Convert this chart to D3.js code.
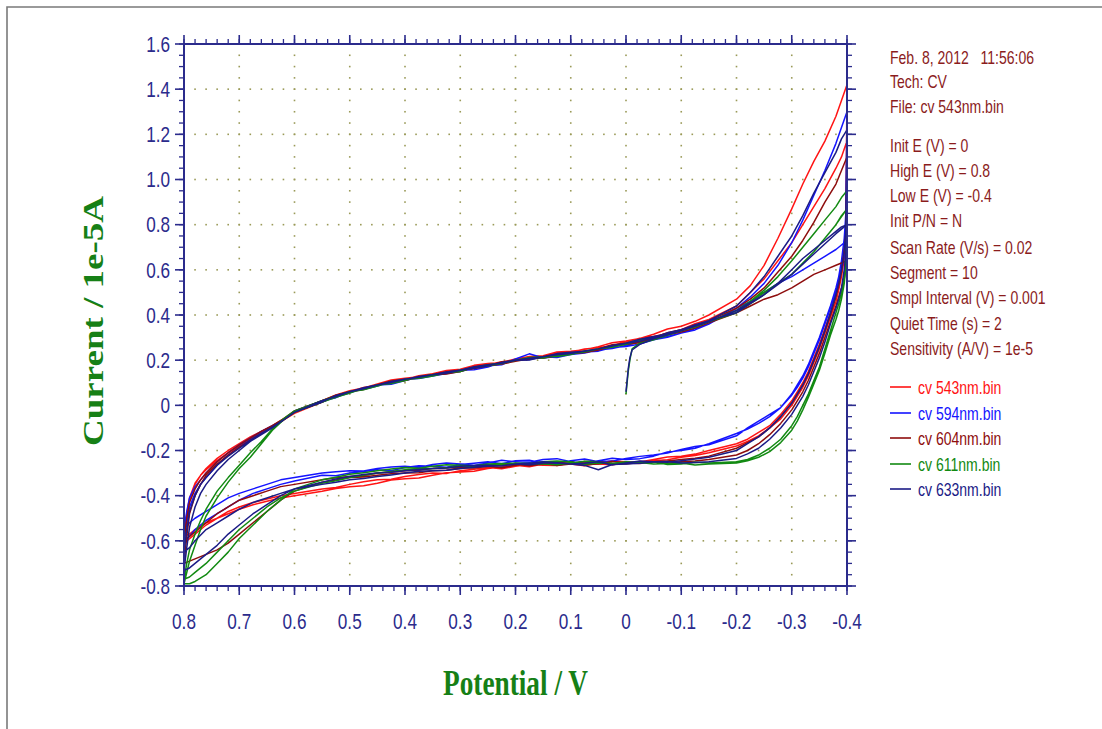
<!DOCTYPE html>
<html>
<head>
<meta charset="utf-8">
<script src="https://cdn.jsdelivr.net/npm/d3@7"></script>
<style>
  html, body { margin: 0; padding: 0; background: #fff; }
  svg { display: block; }
</style>
</head>
<body>
<svg id="chart" width="1102" height="729"></svg>
<script>
// ---- Data -------------------------------------------------------------
// Potential grid (V) for the sweep from -0.4 V up to 0.8 V (lower branch)
const sweepPos = [
  -0.4, -0.398, -0.395, -0.39, -0.385, -0.38, -0.37, -0.36, -0.35, -0.34, -0.33, -0.32, -0.31, -0.3, -0.28, -0.26, -0.24, -0.22, -0.2,
  -0.15, -0.125, -0.1, -0.075, -0.05, -0.025, 0, 0.025, 0.05, 0.075, 0.1, 0.125, 0.15, 0.175, 0.2, 0.225, 0.25, 0.275, 0.3, 0.325, 0.35, 0.375, 0.4, 0.425, 0.45, 0.475, 0.5, 0.525, 0.55,
  0.6, 0.625, 0.65, 0.675, 0.7, 0.72, 0.74, 0.76, 0.78, 0.79, 0.8];

// Potential grid (V) for the sweep from 0.8 V down to -0.4 V (upper branch)
const sweepNeg = [
  0.8, 0.795, 0.79, 0.78, 0.77, 0.76, 0.74, 0.72, 0.7, 0.68, 0.66, 0.64, 0.62, 0.6,
  0.55, 0.525, 0.5, 0.475, 0.45, 0.425, 0.4, 0.375, 0.35, 0.325, 0.3, 0.275, 0.25, 0.225, 0.2, 0.175, 0.15, 0.125, 0.1, 0.075, 0.05, 0.025, 0, -0.025, -0.05, -0.075, -0.1, -0.125, -0.15,
  -0.2, -0.225, -0.25, -0.275, -0.3, -0.32, -0.34, -0.36, -0.38, -0.39, -0.4];

// First segment: starts at Init E = 0 V and runs negative
const sweepStart = [0, -0.002, -0.004, -0.007, -0.011, -0.025, -0.05, -0.1, -0.15, -0.2, -0.25, -0.3, -0.34, -0.38, -0.4];

// Currents (1e-5 A) per file: [toward 0.8, toward -0.4, toward 0.8, toward -0.4]
const cur543 = [
  [1.17, 0.72, 0.65, 0.57, 0.51, 0.46, 0.39, 0.32, 0.25, 0.19, 0.13, 0.08, 0.04, 0.0, -0.06, -0.1, -0.135, -0.16, -0.18,
   -0.21, -0.222, -0.23, -0.241, -0.245, -0.249, -0.255, -0.263, -0.26, -0.252, -0.255, -0.266, -0.265, -0.262, -0.27, -0.281, -0.275, -0.283, -0.29, -0.302, -0.3, -0.306, -0.315, -0.327, -0.33, -0.338, -0.35, -0.364, -0.37,
   -0.39, -0.40, -0.415, -0.43, -0.45, -0.47, -0.5, -0.53, -0.57, -0.59, -0.61],
  [-0.61, -0.5, -0.42, -0.35, -0.31, -0.28, -0.235, -0.2, -0.17, -0.14, -0.115, -0.09, -0.06, -0.03,
   0.02, 0.046, 0.065, 0.077, 0.095, 0.112, 0.12, 0.127, 0.14, 0.154, 0.16, 0.177, 0.185, 0.19, 0.205, 0.216, 0.22, 0.236, 0.24, 0.246, 0.26, 0.277, 0.285, 0.296, 0.315, 0.338, 0.35, 0.372, 0.4,
   0.47, 0.53, 0.62, 0.74, 0.87, 0.98, 1.08, 1.17, 1.28, 1.35, 1.42],
  [1.42, 0.8, 0.7, 0.6, 0.54, 0.49, 0.41, 0.34, 0.27, 0.21, 0.15, 0.1, 0.06, 0.02, -0.04, -0.09, -0.12, -0.15, -0.17,
   -0.2, -0.216, -0.225, -0.229, -0.24, -0.251, -0.25, -0.246, -0.255, -0.268, -0.26, -0.257, -0.26, -0.272, -0.265, -0.273, -0.28, -0.292, -0.295, -0.299, -0.31, -0.322, -0.325, -0.331, -0.345, -0.356, -0.36, -0.368, -0.38,
   -0.4, -0.41, -0.425, -0.44, -0.46, -0.48, -0.5, -0.52, -0.55, -0.57, -0.58],
  [-0.58, -0.48, -0.41, -0.345, -0.31, -0.285, -0.245, -0.21, -0.18, -0.15, -0.12, -0.095, -0.065, -0.035,
   0.015, 0.041, 0.06, 0.079, 0.09, 0.1, 0.115, 0.131, 0.14, 0.144, 0.155, 0.172, 0.18, 0.193, 0.2, 0.207, 0.22, 0.229, 0.235, 0.249, 0.255, 0.264, 0.28, 0.297, 0.305, 0.318, 0.335, 0.361, 0.38,
   0.44, 0.5, 0.56, 0.64, 0.72, 0.8, 0.88, 0.96, 1.05, 1.1, 1.17]
];
const cur594 = [
  [0.73, 0.7, 0.66, 0.6, 0.55, 0.5, 0.43, 0.36, 0.29, 0.23, 0.17, 0.12, 0.08, 0.045, -0.01, -0.05, -0.08, -0.105, -0.125,
   -0.17, -0.19, -0.2, -0.207, -0.225, -0.236, -0.24, -0.234, -0.245, -0.258, -0.25, -0.236, -0.24, -0.252, -0.25, -0.243, -0.255, -0.266, -0.26, -0.255, -0.262, -0.275, -0.27, -0.273, -0.28, -0.291, -0.29, -0.294, -0.3,
   -0.32, -0.33, -0.35, -0.37, -0.39, -0.41, -0.44, -0.47, -0.5, -0.52, -0.55],
  [-0.55, -0.47, -0.41, -0.36, -0.33, -0.3, -0.25, -0.21, -0.175, -0.145, -0.115, -0.09, -0.065, -0.03,
   0.015, 0.038, 0.055, 0.076, 0.09, 0.093, 0.11, 0.124, 0.13, 0.141, 0.15, 0.166, 0.175, 0.18, 0.205, 0.228, 0.21, 0.216, 0.225, 0.232, 0.245, 0.252, 0.265, 0.283, 0.29, 0.305, 0.32, 0.334, 0.36,
   0.43, 0.48, 0.54, 0.62, 0.72, 0.82, 0.93, 1.04, 1.16, 1.23, 1.30],
  [1.30, 0.85, 0.74, 0.64, 0.57, 0.52, 0.44, 0.37, 0.3, 0.24, 0.18, 0.13, 0.09, 0.05, -0.01, -0.04, -0.07, -0.1, -0.135,
   -0.175, -0.182, -0.195, -0.211, -0.22, -0.226, -0.235, -0.247, -0.25, -0.238, -0.245, -0.258, -0.255, -0.243, -0.245, -0.259, -0.25, -0.256, -0.262, -0.274, -0.27, -0.268, -0.275, -0.29, -0.285, -0.293, -0.3, -0.312, -0.31,
   -0.335, -0.35, -0.37, -0.39, -0.42, -0.45, -0.48, -0.51, -0.55, -0.58, -0.6],
  [-0.6, -0.52, -0.45, -0.39, -0.35, -0.32, -0.265, -0.22, -0.185, -0.15, -0.12, -0.09, -0.065, -0.025,
   0.02, 0.034, 0.06, 0.071, 0.085, 0.104, 0.115, 0.119, 0.13, 0.147, 0.155, 0.158, 0.17, 0.189, 0.2, 0.203, 0.215, 0.212, 0.225, 0.236, 0.24, 0.256, 0.26, 0.272, 0.29, 0.301, 0.32, 0.341, 0.36,
   0.43, 0.46, 0.5, 0.54, 0.57, 0.6, 0.63, 0.66, 0.69, 0.71, 0.73]
];
const cur604 = [
  [0.64, 0.6, 0.56, 0.52, 0.48, 0.44, 0.37, 0.3, 0.23, 0.17, 0.11, 0.06, 0.02, -0.02, -0.08, -0.13, -0.17, -0.2, -0.22,
   -0.24, -0.247, -0.25, -0.256, -0.25, -0.252, -0.26, -0.258, -0.25, -0.249, -0.26, -0.266, -0.255, -0.259, -0.265, -0.276, -0.27, -0.274, -0.28, -0.287, -0.29, -0.298, -0.3, -0.303, -0.31, -0.317, -0.32, -0.331, -0.34,
   -0.38, -0.42, -0.47, -0.52, -0.57, -0.61, -0.64, -0.66, -0.68, -0.69, -0.70],
  [-0.70, -0.58, -0.48, -0.4, -0.35, -0.31, -0.26, -0.22, -0.185, -0.155, -0.125, -0.095, -0.065, -0.03,
   0.015, 0.043, 0.06, 0.074, 0.09, 0.108, 0.115, 0.121, 0.135, 0.149, 0.155, 0.163, 0.175, 0.192, 0.2, 0.204, 0.215, 0.226, 0.23, 0.238, 0.25, 0.268, 0.275, 0.284, 0.3, 0.322, 0.335, 0.351, 0.375,
   0.43, 0.47, 0.52, 0.59, 0.66, 0.73, 0.81, 0.9, 0.98, 1.04, 1.1],
  [1.1, 0.76, 0.68, 0.59, 0.53, 0.48, 0.4, 0.33, 0.26, 0.2, 0.14, 0.09, 0.05, 0.01, -0.05, -0.1, -0.14, -0.165, -0.19,
   -0.225, -0.234, -0.24, -0.246, -0.25, -0.258, -0.255, -0.249, -0.26, -0.263, -0.25, -0.252, -0.26, -0.268, -0.26, -0.264, -0.27, -0.277, -0.275, -0.276, -0.28, -0.288, -0.29, -0.295, -0.3, -0.311, -0.315, -0.321, -0.33,
   -0.35, -0.36, -0.38, -0.4, -0.42, -0.45, -0.48, -0.52, -0.56, -0.58, -0.6],
  [-0.6, -0.5, -0.43, -0.37, -0.33, -0.3, -0.25, -0.21, -0.175, -0.145, -0.115, -0.09, -0.06, -0.025,
   0.02, 0.045, 0.06, 0.07, 0.09, 0.102, 0.11, 0.126, 0.135, 0.139, 0.15, 0.167, 0.175, 0.183, 0.195, 0.206, 0.21, 0.219, 0.23, 0.234, 0.245, 0.262, 0.27, 0.277, 0.295, 0.312, 0.325, 0.342, 0.365,
   0.41, 0.44, 0.47, 0.49, 0.52, 0.55, 0.58, 0.6, 0.62, 0.63, 0.64]
];
const start611 = [0.05, 0.1, 0.15, 0.2, 0.25, 0.275, 0.29, 0.33, 0.37, 0.42, 0.5, 0.58, 0.68, 0.8, 0.87];
const cur611 = [
  [0.87, 0.62, 0.54, 0.47, 0.42, 0.38, 0.31, 0.23, 0.155, 0.095, 0.035, -0.02, -0.07, -0.11, -0.165, -0.205, -0.23, -0.245, -0.255,
   -0.26, -0.264, -0.255, -0.258, -0.26, -0.253, -0.25, -0.257, -0.255, -0.261, -0.25, -0.247, -0.25, -0.259, -0.255, -0.258, -0.26, -0.268, -0.265, -0.263, -0.27, -0.279, -0.275, -0.282, -0.29, -0.298, -0.305, -0.318, -0.33,
   -0.37, -0.42, -0.47, -0.53, -0.59, -0.65, -0.70, -0.75, -0.78, -0.79, -0.79],
  [-0.79, -0.74, -0.69, -0.62, -0.55, -0.49, -0.41, -0.34, -0.28, -0.23, -0.17, -0.11, -0.065, -0.03,
   0.015, 0.036, 0.055, 0.075, 0.09, 0.097, 0.11, 0.126, 0.135, 0.143, 0.155, 0.168, 0.175, 0.185, 0.2, 0.21, 0.21, 0.222, 0.23, 0.236, 0.25, 0.257, 0.27, 0.288, 0.3, 0.312, 0.33, 0.354, 0.37,
   0.42, 0.46, 0.51, 0.57, 0.64, 0.7, 0.76, 0.82, 0.88, 0.92, 0.95],
  [0.95, 0.66, 0.57, 0.5, 0.45, 0.41, 0.33, 0.25, 0.17, 0.11, 0.05, 0.0, -0.05, -0.09, -0.15, -0.19, -0.22, -0.24, -0.25,
   -0.255, -0.252, -0.26, -0.262, -0.25, -0.254, -0.255, -0.261, -0.25, -0.248, -0.255, -0.263, -0.26, -0.258, -0.255, -0.262, -0.265, -0.27, -0.27, -0.276, -0.28, -0.281, -0.285, -0.293, -0.3, -0.31, -0.32, -0.334, -0.345,
   -0.38, -0.41, -0.45, -0.5, -0.55, -0.6, -0.65, -0.7, -0.74, -0.76, -0.77],
  [-0.77, -0.7, -0.64, -0.57, -0.51, -0.46, -0.38, -0.32, -0.265, -0.21, -0.16, -0.105, -0.06, -0.025,
   0.02, 0.042, 0.06, 0.069, 0.085, 0.103, 0.115, 0.12, 0.13, 0.144, 0.15, 0.169, 0.18, 0.186, 0.2, 0.212, 0.215, 0.216, 0.225, 0.241, 0.25, 0.259, 0.275, 0.291, 0.3, 0.311, 0.33, 0.347, 0.37,
   0.41, 0.45, 0.49, 0.54, 0.58, 0.63, 0.68, 0.74, 0.8, 0.84, 0.87]
];
const start633 = [0.06, 0.11, 0.16, 0.21, 0.245, 0.27, 0.295, 0.33, 0.37, 0.42, 0.49, 0.58, 0.67, 0.76, 0.8];
const cur633 = [
  [0.8, 0.68, 0.6, 0.52, 0.47, 0.43, 0.36, 0.28, 0.21, 0.15, 0.09, 0.04, 0.0, -0.04, -0.1, -0.15, -0.19, -0.215, -0.235,
   -0.25, -0.253, -0.255, -0.249, -0.25, -0.257, -0.26, -0.262, -0.285, -0.266, -0.26, -0.254, -0.25, -0.256, -0.26, -0.269, -0.265, -0.266, -0.27, -0.278, -0.28, -0.284, -0.29, -0.296, -0.3, -0.306, -0.315, -0.326, -0.34,
   -0.37, -0.4, -0.44, -0.48, -0.53, -0.57, -0.62, -0.66, -0.7, -0.72, -0.73],
  [-0.73, -0.63, -0.54, -0.45, -0.39, -0.35, -0.29, -0.24, -0.2, -0.16, -0.13, -0.1, -0.065, -0.03,
   0.02, 0.039, 0.06, 0.078, 0.09, 0.106, 0.115, 0.124, 0.135, 0.148, 0.155, 0.171, 0.18, 0.186, 0.2, 0.209, 0.215, 0.224, 0.23, 0.241, 0.25, 0.265, 0.275, 0.293, 0.305, 0.316, 0.335, 0.357, 0.375,
   0.44, 0.5, 0.57, 0.66, 0.75, 0.84, 0.94, 1.03, 1.12, 1.18, 1.22],
  [1.22, 0.78, 0.69, 0.6, 0.54, 0.49, 0.41, 0.33, 0.26, 0.2, 0.14, 0.09, 0.05, 0.01, -0.05, -0.1, -0.14, -0.17, -0.2,
   -0.23, -0.238, -0.245, -0.252, -0.25, -0.247, -0.255, -0.264, -0.25, -0.256, -0.26, -0.255, -0.255, -0.263, -0.26, -0.268, -0.27, -0.274, -0.28, -0.287, -0.29, -0.292, -0.3, -0.308, -0.315, -0.324, -0.33, -0.341, -0.35,
   -0.37, -0.39, -0.41, -0.43, -0.46, -0.49, -0.52, -0.55, -0.6, -0.63, -0.65],
  [-0.65, -0.55, -0.47, -0.4, -0.35, -0.32, -0.265, -0.225, -0.19, -0.155, -0.125, -0.095, -0.065, -0.03,
   0.015, 0.044, 0.06, 0.073, 0.09, 0.101, 0.115, 0.128, 0.135, 0.142, 0.155, 0.164, 0.175, 0.19, 0.2, 0.201, 0.215, 0.229, 0.235, 0.239, 0.25, 0.263, 0.275, 0.284, 0.3, 0.321, 0.335, 0.356, 0.375,
   0.41, 0.45, 0.49, 0.54, 0.6, 0.65, 0.69, 0.73, 0.77, 0.79, 0.8]
];

const fileNames = ["cv 543nm.bin", "cv 594nm.bin", "cv 604nm.bin", "cv 611nm.bin", "cv 633nm.bin"];
const fileColors = ["#ff1414", "#1414ff", "#8e0d0d", "#128a12", "#1b1b86"];
const fileCurrents = [cur543, cur594, cur604, cur611, cur633];
const fileStarts = [null, null, null, start611, start633];

const xTicks = [0.8, 0.7, 0.6, 0.5, 0.4, 0.3, 0.2, 0.1, 0, -0.1, -0.2, -0.3, -0.4];
const yTicks = [-0.8, -0.6, -0.4, -0.2, 0, 0.2, 0.4, 0.6, 0.8, 1.0, 1.2, 1.4, 1.6];

const infoLines = [
  "Feb. 8, 2012   11:56:06",
  "Tech: CV",
  "File: cv 543nm.bin",
  "Init E (V) = 0",
  "High E (V) = 0.8",
  "Low E (V) = -0.4",
  "Init P/N = N",
  "Scan Rate (V/s) = 0.02",
  "Segment = 10",
  "Smpl Interval (V) = 0.001",
  "Quiet Time (s) = 2",
  "Sensitivity (A/V) = 1e-5"
];

// ---- Layout -----------------------------------------------------------
const svg = d3.select("#chart");
const plot = { left: 184, right: 847, top: 44, bottom: 586 };
const axisColor = "#2b2b8c";
const gridColor = "#9a9a58";
const infoColor = "#8b1c1c";
const squeeze = 0.78;   // narrow typeface look

const x = d3.scaleLinear().domain([0.8, -0.4]).range([plot.left, plot.right]);
const y = d3.scaleLinear().domain([-0.8, 1.6]).range([plot.bottom, plot.top]);

// Minor tick positions
const xMinor = d3.range(-20, 41).map(i => i / 50);   // every 0.02 V
const yMinor = d3.range(-16, 33).map(i => i / 20);   // every 0.05

function label(v) { return v === 0 ? "0" : v.toFixed(1); }

// Outer frame
svg.append("path")
  .attr("d", "M7,729 L7,7 L1102,7")
  .attr("fill", "none").attr("stroke", "#7a7a7a").attr("stroke-width", 1.6);

// ---- Dotted grid -------------------------------------------------------
const gridLayer = svg.append("g");
const inner = (v, a, b) => v > Math.min(a, b) + 1e-9 && v < Math.max(a, b) - 1e-9;
const gx = xTicks.filter(v => inner(v, 0.8, -0.4));
const gy = yTicks.filter(v => inner(v, -0.8, 1.6));
const dots = [];
gx.forEach(xv => yMinor.filter(v => inner(v, -0.8, 1.6)).forEach(yv => dots.push([xv, yv])));
gy.forEach(yv => xMinor.filter(v => inner(v, 0.8, -0.4)).forEach(xv => dots.push([xv, yv])));
gridLayer.selectAll("rect").data(dots).join("rect")
  .attr("x", d => x(d[0]) - 0.8)
  .attr("y", d => y(d[1]) - 0.8)
  .attr("width", 1.6).attr("height", 1.6)
  .attr("fill", gridColor);

// ---- Curves ------------------------------------------------------------
svg.append("clipPath").attr("id", "plotClip")
  .append("rect")
  .attr("x", plot.left).attr("y", plot.top - 2)
  .attr("width", plot.right - plot.left + 1)
  .attr("height", plot.bottom - plot.top + 2);

const line = d3.line().x(d => x(d[0])).y(d => y(d[1]));
const curves = svg.append("g").attr("clip-path", "url(#plotClip)");

fileCurrents.forEach((segs, fi) => {
  let pts = [];
  if (fileStarts[fi]) pts = pts.concat(d3.zip(sweepStart, fileStarts[fi]));
  segs.forEach((seg, si) => {
    const grid = (si % 2 === 0) ? sweepPos : sweepNeg;
    pts = pts.concat(d3.zip(grid, seg));
  });
  curves.append("path")
    .datum(pts)
    .attr("d", line)
    .attr("fill", "none")
    .attr("stroke", fileColors[fi])
    .attr("stroke-width", 1.5)
    .attr("stroke-linejoin", "round");
});

// ---- Axes box and ticks --------------------------------------------------
const axes = svg.append("g").attr("stroke", axisColor);
const majorLen = 9, minorLen = 5;

function xticks(values, len, sw) {
  axes.append("g").selectAll("line").data(values).join("line")
    .attr("x1", d => x(d)).attr("x2", d => x(d))
    .attr("y1", plot.bottom).attr("y2", plot.bottom + len)
    .attr("stroke-width", sw);
  axes.append("g").selectAll("line").data(values).join("line")
    .attr("x1", d => x(d)).attr("x2", d => x(d))
    .attr("y1", plot.top).attr("y2", plot.top - len)
    .attr("stroke-width", sw);
}
function yticks(values, len, sw) {
  axes.append("g").selectAll("line").data(values).join("line")
    .attr("y1", d => y(d)).attr("y2", d => y(d))
    .attr("x1", plot.left).attr("x2", plot.left - len)
    .attr("stroke-width", sw);
  axes.append("g").selectAll("line").data(values).join("line")
    .attr("y1", d => y(d)).attr("y2", d => y(d))
    .attr("x1", plot.right).attr("x2", plot.right + len)
    .attr("stroke-width", sw);
}
xticks(xMinor, minorLen, 1.3);
xticks(xTicks, majorLen, 1.6);
yticks(yMinor, minorLen, 1.3);
yticks(yTicks, majorLen, 1.6);

axes.append("rect")
  .attr("x", plot.left).attr("y", plot.top)
  .attr("width", plot.right - plot.left).attr("height", plot.bottom - plot.top)
  .attr("fill", "none").attr("stroke-width", 2);

// ---- Tick labels ----------------------------------------------------------
const tickFont = "'Liberation Sans', Arial, sans-serif";
svg.append("g").selectAll("text").data(xTicks).join("text")
  .attr("transform", d => `translate(${x(d)},${629}) scale(${squeeze},1)`)
  .attr("text-anchor", "middle")
  .attr("font-family", tickFont).attr("font-size", 22)
  .attr("fill", axisColor)
  .text(label);

svg.append("g").selectAll("text").data(yTicks).join("text")
  .attr("transform", d => `translate(${170},${y(d) + 7.8}) scale(${squeeze},1)`)
  .attr("text-anchor", "end")
  .attr("font-family", tickFont).attr("font-size", 22)
  .attr("fill", axisColor)
  .text(label);

// ---- Axis titles ------------------------------------------------------------
const titleFont = "'Liberation Serif', 'Times New Roman', serif";
svg.append("text")
  .attr("transform", `translate(${(plot.left + plot.right) / 2},695) scale(${squeeze},1)`)
  .attr("text-anchor", "middle")
  .attr("font-family", titleFont).attr("font-weight", "bold").attr("font-size", 35)
  .attr("fill", "#168016")
  .text("Potential / V");

svg.append("text")
  .attr("transform", `translate(103,${(plot.top + plot.bottom) / 2 + 6}) scale(${squeeze},1) rotate(-90)`)
  .attr("text-anchor", "middle")
  .attr("font-family", titleFont).attr("font-weight", "bold").attr("font-size", 37)
  .attr("fill", "#168016")
  .text("Current / 1e-5A");

// ---- Instrument info panel ------------------------------------------------
const infoY = [57, 81, 106, 145, 170, 195, 220, 247, 272, 297, 323, 348];
svg.append("g").selectAll("text").data(infoLines).join("text")
  .attr("transform", (d, i) => `translate(890,${infoY[i] + 6.5}) scale(${squeeze},1)`)
  .attr("font-family", tickFont).attr("font-size", 18)
  .attr("fill", infoColor)
  .style("white-space", "pre")
  .text(d => d);

// ---- Legend --------------------------------------------------------------------
const legendY = [387, 413, 438, 464, 489];
const legend = svg.append("g");
fileNames.forEach((name, i) => {
  legend.append("line")
    .attr("x1", 890).attr("x2", 911)
    .attr("y1", legendY[i]).attr("y2", legendY[i])
    .attr("stroke", fileColors[i]).attr("stroke-width", 1.6);
  legend.append("text")
    .attr("transform", `translate(918,${legendY[i] + 6.5}) scale(${squeeze},1)`)
    .attr("font-family", tickFont).attr("font-size", 18)
    .attr("fill", fileColors[i])
    .text(name);
});
</script>
</body>
</html>
